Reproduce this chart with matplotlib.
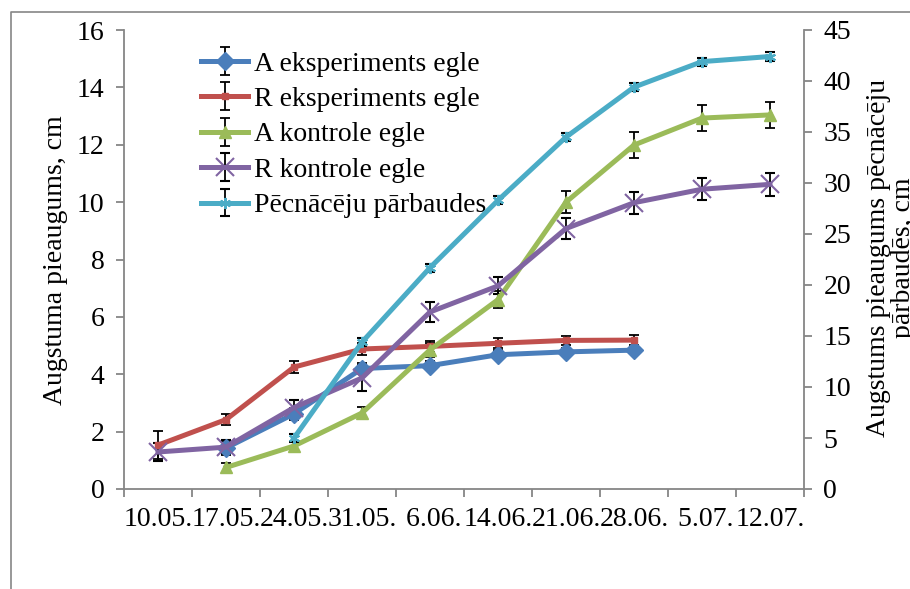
import matplotlib.pyplot as plt
from matplotlib.lines import Line2D

plt.rcParams['font.family'] = ['Liberation Serif', 'DejaVu Serif']
plt.rcParams['font.size'] = 20

datumi = ['10.05.', '17.05.', '24.05.', '31.05.', ' 6.06.', '14.06.',
          '21.06.', '28.06.', ' 5.07.', '12.07.']

# A eksperiments egle (no 17.05. līdz 28.06.)
a_eksp_x = [1, 2, 3, 4, 5, 6, 7]
a_eksp = [1.43, 2.62, 4.2, 4.3, 4.68, 4.78, 4.84]
a_eksp_err = [0.25, 0.2, 0.2, 0.15, 0.15, 0.15, 0.15]

# R eksperiments egle
r_eksp_x = [0, 1, 2, 3, 4, 5, 6, 7]
r_eksp = [1.53, 2.42, 4.25, 4.88, 4.97, 5.08, 5.18, 5.19]
r_eksp_err = [0.5, 0.2, 0.2, 0.2, 0.18, 0.17, 0.17, 0.17]

# A kontrole egle
a_kontr_x = [1, 2, 3, 4, 5, 6, 7, 8, 9]
a_kontr = [0.75, 1.5, 2.65, 4.85, 6.6, 10.0, 11.99, 12.93, 13.04]
a_kontr_err = [0.15, 0.15, 0.2, 0.25, 0.3, 0.38, 0.44, 0.44, 0.45]

# R kontrole egle
r_kontr_x = [0, 1, 2, 3, 4, 5, 6, 7, 8, 9]
r_kontr = [1.29, 1.46, 2.84, 3.87, 6.17, 7.08, 9.08, 9.98, 10.45, 10.62]
r_kontr_err = [0.3, 0.25, 0.25, 0.45, 0.35, 0.3, 0.35, 0.38, 0.38, 0.39]

# Pēcnācēju pārbaudes (labā ass)
pecn_x = [2, 3, 4, 5, 6, 7, 8, 9]
pecn = [5.0, 14.4, 21.7, 28.3, 34.5, 39.4, 41.9, 42.4]
pecn_err = [0.4, 0.4, 0.4, 0.4, 0.4, 0.4, 0.4, 0.4]

W, H = 910, 589
fig = plt.figure(figsize=(W / 100, H / 100), dpi=100)
ax = fig.add_axes([124 / W, 1 - 489 / H, 680 / W, 459 / H])
ax2 = ax.twinx()

pel = '#868686'
lw = 3.6
eb = dict(ecolor='black', elinewidth=1.3, capsize=3.6, capthick=1.3)

ax.errorbar(a_eksp_x, a_eksp, yerr=a_eksp_err, color='#4A7EBB', lw=lw,
            marker='D', ms=9, label='A eksperiments egle', **eb)
ax.errorbar(r_eksp_x, r_eksp, yerr=r_eksp_err, color='#C0504D', lw=lw,
            marker='s', ms=4, label='R eksperiments egle', **eb)
ax.errorbar(a_kontr_x, a_kontr, yerr=a_kontr_err, color='#9BBB59', lw=lw,
            marker='^', ms=9, label='A kontrole egle', **eb)
ax.errorbar(r_kontr_x, r_kontr, yerr=r_kontr_err, color='#8064A2', lw=lw,
            marker='x', ms=13, mew=1.5, label='R kontrole egle', **eb)
ax2.errorbar(pecn_x, pecn, yerr=pecn_err, color='#4BACC6', lw=lw,
             marker=(6, 2, 0), ms=8, mew=1.5, label='Pēcnācēju pārbaudes', **eb)

ax.set_xlim(-0.5, 9.5)
ax.set_ylim(0, 16)
ax2.set_ylim(0, 45)
ax.set_yticks(range(0, 17, 2))
ax2.set_yticks(range(0, 46, 5))
ax.set_xticks(range(len(datumi)))
ax.set_xticklabels(datumi)
ax.set_xticks([i - 0.5 for i in range(len(datumi) + 1)], minor=True)
ax.tick_params(axis='x', which='major', length=0, pad=13)
ax.tick_params(axis='x', which='minor', length=6, width=1.3, color=pel, direction='out')
ax.tick_params(axis='y', length=6, width=1.3, color=pel, direction='out', pad=8)
ax2.tick_params(axis='y', length=6, width=1.3, color=pel, direction='out', pad=8)

for a in (ax, ax2):
    a.spines['top'].set_visible(False)
    for s in ('left', 'right', 'bottom'):
        a.spines[s].set_color(pel)
        a.spines[s].set_linewidth(1.3)
ax2.spines['left'].set_visible(False)
ax2.spines['bottom'].set_visible(False)
ax.spines['right'].set_visible(False)

fig.text(55 / W, 1 - 260 / H, 'Augstuma pieaugums, cm', rotation=90,
         ha='center', va='center')
fig.text(891 / W, 1 - 258 / H, 'Augstums pieaugums pēcnācēju\npārbaudēs, cm',
         rotation=90, ha='center', va='center', multialignment='center',
         linespacing=1.05)

h1, l1 = ax.get_legend_handles_labels()
h2, l2 = ax2.get_legend_handles_labels()
ax.legend(h1 + h2, l1 + l2, loc='upper left', frameon=False,
          bbox_to_anchor=(190 / W, 1 - 40 / H), bbox_transform=fig.transFigure,
          borderaxespad=0, labelspacing=0.36, handlelength=1.7,
          handletextpad=0.2)

# ārējais rāmis
fig.add_artist(Line2D([11 / W, 11 / W, 1.0], [0.0, 1 - 12 / H, 1 - 12 / H],
                      transform=fig.transFigure, color=pel, lw=1.2))

fig.savefig('out.png', dpi=100)
